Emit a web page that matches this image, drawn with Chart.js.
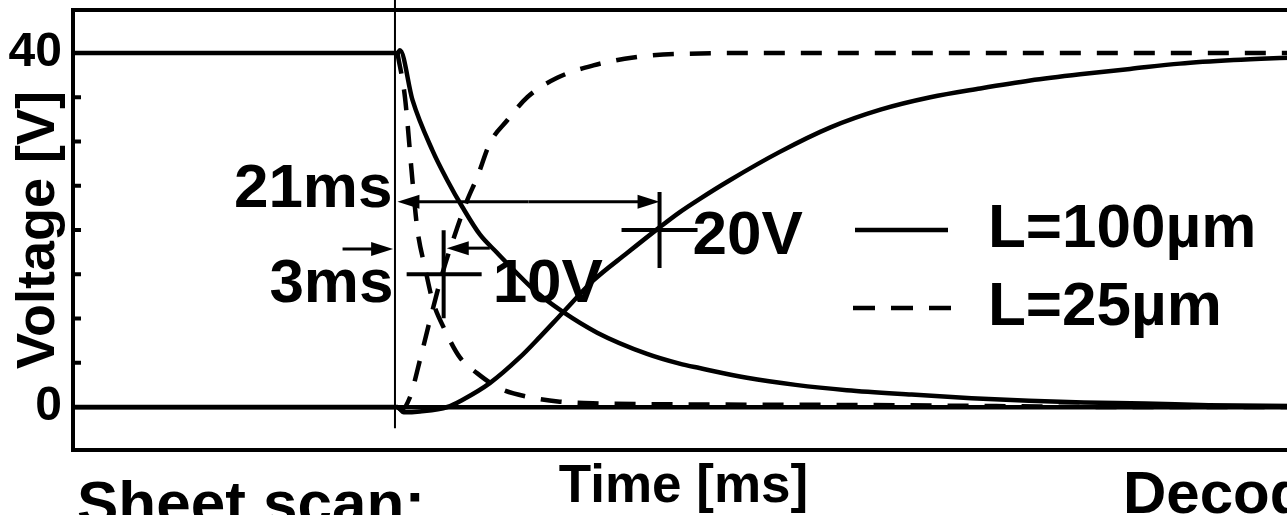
<!DOCTYPE html>
<html>
<head>
<meta charset="utf-8">
<script src="https://cdn.jsdelivr.net/npm/chart.js@4.4.1/dist/chart.umd.min.js"></script>
<style>
html, body { margin: 0; padding: 0; overflow: hidden; background: #fff; }
canvas { display: block; }
</style>
</head>
<body>
<canvas id="chartTension" width="1296" height="515"></canvas>
<script>
// tiempos en ms, tensiones en V
const tiempoBajada100 = [-26, 0, 0.2, 1.2, 2.8, 4.0, 5.2, 6.6, 8.0, 9.3, 11.2, 13.2, 16.0, 20.0, 22.6, 24.2, 28, 31.9, 36, 41.2, 46, 50.6, 55, 59.9, 65, 71.8];
const tensionBajada100 = [40, 40, 40.3, 34.7, 29.0, 25.6, 22.6, 19.5, 17.4, 15.5, 12.9, 10.8, 8.4, 6.0, 4.9, 4.4, 3.3, 2.5, 1.9, 1.4, 1.0, 0.7, 0.5, 0.4, 0.2, 0.1];

const tiempoSubida100 = [-26, 0, 0.5, 1.8, 4.0, 5.2, 7.4, 9.8, 11.4, 13.2, 15.7, 18.4, 21.0, 22.6, 24.2, 26.6, 30.6, 34.7, 38.7, 42.7, 46.7, 50.7, 54.7, 58.7, 62.7, 67, 71.8];
const tensionSubida100 = [0, 0, -0.6, -0.5, 0.0, 0.8, 2.7, 5.6, 7.9, 10.6, 14.3, 17.4, 20.3, 22.0, 23.5, 25.6, 28.8, 31.6, 33.6, 35.0, 36.0, 36.9, 37.6, 38.2, 38.8, 39.2, 39.5];

const tiempoBajada25 = [0, 0.6, 1.2, 1.6, 2.2, 2.8, 3.8, 5.0, 6.4, 8.2, 10.6, 13.0, 16.2, 22.6, 32, 40, 48, 58, 71.8];
const tensionBajada25 = [40, 35, 25.6, 20, 15.8, 12.1, 8.7, 5.6, 3.8, 2.1, 1.1, 0.6, 0.4, 0.3, 0.25, 0.2, 0.1, 0, 0];

const tiempoSubida25 = [0, 0.3, 1.0, 1.8, 2.6, 3.6, 4.8, 5.6, 6.4, 7.4, 8.8, 10.4, 12.8, 15.7, 18.9, 22.6, 30, 71.8];
const tensionSubida25 = [0, -0.3, 1.1, 5.3, 9.8, 15.1, 20.3, 23.4, 26.0, 29.8, 32.4, 35.0, 37.2, 38.6, 39.5, 39.9, 40, 40];

const ticksTension = [0, 5, 10, 15, 20, 25, 30, 35, 40];
const etiquetasTension = [0, 40]; // solo estas llevan numero

const FUENTE = '"Liberation Sans", Arial, sans-serif';

function pares(ts, vs) {
    return ts.map((t, i) => ({ x: t, y: vs[i] }));
}

function serie(label, ts, vs, discontinua) {
    return {
        label: label,
        data: pares(ts, vs),
        borderColor: '#000',
        borderWidth: 4.5,
        borderDash: discontinua ? [21, 16] : [],
        pointRadius: 0,
        fill: false,
        cubicInterpolationMode: 'monotone'
    };
}

function flecha(ctx, x1, y, x2) {
    // flecha horizontal con punta en x2
    const dir = x2 > x1 ? 1 : -1;
    ctx.lineWidth = 3;
    ctx.beginPath();
    ctx.moveTo(x1, y);
    ctx.lineTo(x2 - dir * 16, y);
    ctx.stroke();
    ctx.beginPath();
    ctx.moveTo(x2, y);
    ctx.lineTo(x2 - dir * 22, y - 7);
    ctx.lineTo(x2 - dir * 22, y + 7);
    ctx.closePath();
    ctx.fill();
}

function cruz(ctx, cx, cy, izq, der, arr, aba) {
    ctx.lineWidth = 4;
    ctx.beginPath();
    ctx.moveTo(cx - izq, cy); ctx.lineTo(cx + der, cy);
    ctx.moveTo(cx, cy - arr); ctx.lineTo(cx, cy + aba);
    ctx.stroke();
}

const dibujoExtra = {
    id: 'dibujoExtra',
    afterDatasetsDraw(chart) {
        const { ctx, chartArea: a, scales: { x, y } } = chart;
        ctx.save();
        ctx.strokeStyle = '#000';
        ctx.fillStyle = '#000';
        ctx.setLineDash([]);

        // marco
        ctx.lineWidth = 4;
        ctx.beginPath();
        ctx.moveTo(a.right, a.top);
        ctx.lineTo(a.left, a.top);
        ctx.lineTo(a.left, a.bottom);
        ctx.lineTo(a.right, a.bottom);
        ctx.stroke();

        // marcas hacia adentro
        y.ticks.forEach(t => {
            const py = y.getPixelForValue(t.value);
            ctx.beginPath();
            ctx.moveTo(a.left, py);
            ctx.lineTo(a.left + 8, py);
            ctx.stroke();
        });

        // linea fina en t = 0
        const xl = x.getPixelForValue(-0.2);
        ctx.lineWidth = 2;
        ctx.beginPath();
        ctx.moveTo(xl, 0);
        ctx.lineTo(xl, y.getPixelForValue(-2.4));
        ctx.stroke();

        // 21ms
        const x0 = x.getPixelForValue(0);
        const x21 = x.getPixelForValue(21);
        const y21 = y.getPixelForValue(23.2);
        const xm = (x0 + x21) / 2;
        flecha(ctx, xm, y21, x0);
        flecha(ctx, xm, y21, x21);
        cruz(ctx, x21, y.getPixelForValue(20), 38, 38, 38, 38);

        // 3ms
        flecha(ctx, x.getPixelForValue(-4.4), y.getPixelForValue(17.85), x.getPixelForValue(-0.35));
        flecha(ctx, x.getPixelForValue(7.4), y.getPixelForValue(17.95), x.getPixelForValue(3.95));
        const x3 = x.getPixelForValue(3.7);
        const y15 = y.getPixelForValue(15);
        cruz(ctx, x3, y15, 37, 38, 44, 44);

        ctx.font = 'bold 62px ' + FUENTE;
        ctx.textBaseline = 'alphabetic';
        ctx.textAlign = 'right';
        ctx.fillText('21ms', x0 - 5, y21 + 5);
        ctx.fillText('3ms', x0 - 4, y15 + 28);
        ctx.textAlign = 'left';
        ctx.fillText('10V', x3 + 49, y15 + 28);
        ctx.fillText('20V', x21 + 33, y.getPixelForValue(20) + 24);

        // leyenda
        const ds = chart.data.datasets;
        ctx.lineWidth = 4.5;
        ctx.beginPath();
        ctx.moveTo(855, 230); ctx.lineTo(948, 230);
        ctx.stroke();
        ctx.setLineDash([22, 16]);
        ctx.beginPath();
        ctx.moveTo(853, 308); ctx.lineTo(951, 308);
        ctx.stroke();
        ctx.setLineDash([]);
        ctx.fillText(ds[0].label, 988, 247);
        ctx.fillText(ds[2].label, 988, 325);

        ctx.restore();
    },
    afterDraw(chart) {
        const ctx = chart.ctx;
        ctx.save();
        ctx.fillStyle = '#000';
        ctx.textAlign = 'left';
        ctx.textBaseline = 'alphabetic';
        ctx.font = 'bold 62px ' + FUENTE;
        ctx.fillText('Sheet scan:', 77, 524);
        ctx.font = 'bold 60px ' + FUENTE;
        ctx.fillText('Decoder', 1123, 513);
        ctx.restore();
    }
};

const ctx = document.getElementById('chartTension').getContext('2d');
new Chart(ctx, {
    type: 'line',
    data: {
        datasets: [
            serie('L=100µm', tiempoBajada100, tensionBajada100, false),
            serie('L=100µm', tiempoSubida100, tensionSubida100, false),
            serie('L=25µm', tiempoBajada25, tensionBajada25, true),
            serie('L=25µm', tiempoSubida25, tensionSubida25, true)
        ]
    },
    options: {
        responsive: false,
        animation: false,
        devicePixelRatio: 1,
        layout: { padding: { left: 0, top: 10, right: 2, bottom: 0 } },
        plugins: {
            legend: { display: false },
            tooltip: { enabled: false }
        },
        scales: {
            x: {
                type: 'linear',
                min: -26,
                max: 71.84,
                ticks: { display: false },
                grid: { display: false, drawTicks: false },
                border: { display: false },
                title: {
                    display: true,
                    text: 'Time [ms]',
                    color: '#000',
                    font: { family: FUENTE, size: 53, weight: 'bold', lineHeight: 1 },
                    padding: { top: 11, bottom: 1 }
                },
                afterFit(s) {
                    s.height = 65;
                    s.paddingLeft = 0;
                    s.paddingRight = 0;
                }
            },
            y: {
                min: -4.86,
                max: 44.86,
                afterBuildTicks(s) { s.ticks = ticksTension.map(v => ({ value: v })); },
                ticks: {
                    autoSkip: false,
                    padding: 11,
                    color: '#000',
                    font: { family: FUENTE, size: 48, weight: 'bold' },
                    callback: v => etiquetasTension.includes(v) ? String(v) : ''
                },
                grid: {
                    drawTicks: false,
                    color: c => (c.tick && c.tick.value === 0) ? '#000' : 'rgba(0,0,0,0)',
                    lineWidth: c => (c.tick && c.tick.value === 0) ? 4.5 : 0
                },
                border: { display: false },
                title: {
                    display: true,
                    text: 'Voltage [V]',
                    color: '#000',
                    font: { family: FUENTE, size: 54, weight: 'bold', lineHeight: 1 },
                    padding: { top: 12, bottom: 0 }
                },
                afterFit(s) {
                    s.width = 73;
                    s.paddingTop = 0;
                    s.paddingBottom = 0;
                }
            }
        }
    },
    plugins: [dibujoExtra]
});
</script>
</body>
</html>
